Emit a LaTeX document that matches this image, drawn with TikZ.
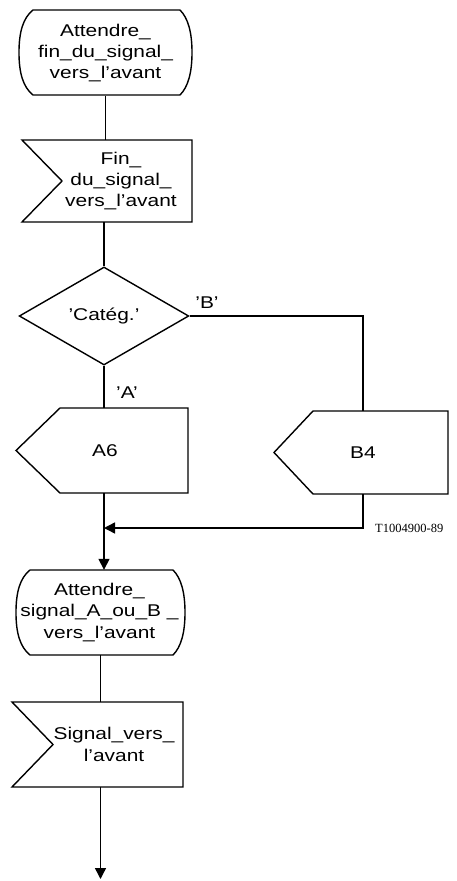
\documentclass[tikz,border=0pt]{standalone}
\usepackage{fontspec}
\setmainfont{Liberation Sans}
\newfontfamily\refserif{Liberation Serif}
\usetikzlibrary{shapes.geometric,arrows.meta}

% SDL state symbol: left, right, top, bottom
\newcommand{\statesym}[4]{%
  \draw[outline] ({#1+14},#3) -- ({#2-12},#3)
    .. controls ({#2-4},{#3+8}) and (#2,{#3+22}) .. (#2,{(#3+#4)/2})
    .. controls (#2,{#4-22}) and ({#2-4},{#4-8}) .. ({#2-12},#4)
    -- ({#1+14},#4)
    .. controls ({#1+4},{#4-8}) and (#1,{#4-22}) .. (#1,{(#3+#4)/2})
    .. controls (#1,{#3+22}) and ({#1+4},{#3+8}) .. cycle;}
% SDL input symbol: left, notch, right, top, bottom
\newcommand{\inputsym}[5]{%
  \draw[outline] (#1,#4) -- (#3,#4) -- (#3,#5) -- (#1,#5)
    -- (#2,{(#4+#5)/2}) -- cycle;}
% SDL output symbol: point, left, right, top, bottom
\newcommand{\outputsym}[5]{%
  \draw[outline] (#1,{(#4+#5)/2}) -- (#2,#4) -- (#3,#4) -- (#3,#5)
    -- (#2,#5) -- cycle;}

\begin{document}
\begin{tikzpicture}[x=1pt,y=-1pt,
  outline/.style={line width=1.4pt, line join=miter},
  % wide lettering: the text is stretched horizontally
  txt/.style={align=center, inner sep=0pt,
    font=\fontsize{17}{21.3}\selectfont, xscale=1.23, transform shape},
  flow/.style={line width=1.4pt},
  tip/.style={-{Triangle[length=11pt,width=11pt]}},
  decision/.style={txt, diamond, draw, line width=1.4pt,
    minimum width=138pt, minimum height=98pt},
  refmark/.style={anchor=west, inner sep=0pt,
    font=\refserif\fontsize{12.5}{12.5}\selectfont}]
\useasboundingbox (0,0) rectangle (456,881);

% symbol outlines
\statesym{19}{192}{10}{95}
\inputsym{22}{62}{192}{140}{222}
\outputsym{16}{60}{188}{408}{493}
\outputsym{274}{313}{448}{411}{494}
\statesym{16}{185}{570}{655}
\inputsym{12}{53}{183}{702}{787}

% texts of the symbols
\path (105.5,53) node[txt, minimum height=85pt] (s1)
  {Attendre\_\\fin\_du\_signal\_\\vers\_l'avant};
\path (121,181) node[txt, minimum height=82pt] (in1)
  {Fin\_\\du\_signal\_\\vers\_l'avant};
\path (104,316) node[decision] (d) {'Catég.'};
\path (105,450.5) node[txt, minimum height=85pt] (a6) {A6};
\path (363,452.5) node[txt, minimum height=83pt] (b4) {B4};
\path (99.5,612.5) node[txt, minimum height=85pt] (s2)
  {Attendre\_\\signal\_A\_ou\_B \_\\vers\_l'avant};
\path (114,744.5) node[txt, minimum height=85pt] (in2)
  {Signal\_vers\_\\l'avant};

% branch labels and reference mark
\path (207,303) node[txt] (lb) {'B'};
\path (127,393) node[txt] (la) {'A'};
\node[refmark] (ref) at (375,528) {T1004900-89};

\coordinate (j) at (104,528);
\coordinate (fin) at (100.5,879);

% connectors
\draw[flow] (s1.south) -- (s1.south |- in1.north);
\draw[flow] (in1.south -| d.north) -- (d.north);
\draw[flow] (d.south) -- (d.south |- a6.north);
\draw[flow] (d.east) -| (b4.north);
\draw[flow] (a6.south -| j) -- (j);
\draw[flow,tip] (b4.south) |- (j);
\draw[flow,tip] (j) -- (j |- s2.north);
\draw[flow] (s2.south -| fin) -- (fin |- in2.north);
\draw[flow,tip] (fin |- in2.south) -- (fin);
\end{tikzpicture}
\end{document}
